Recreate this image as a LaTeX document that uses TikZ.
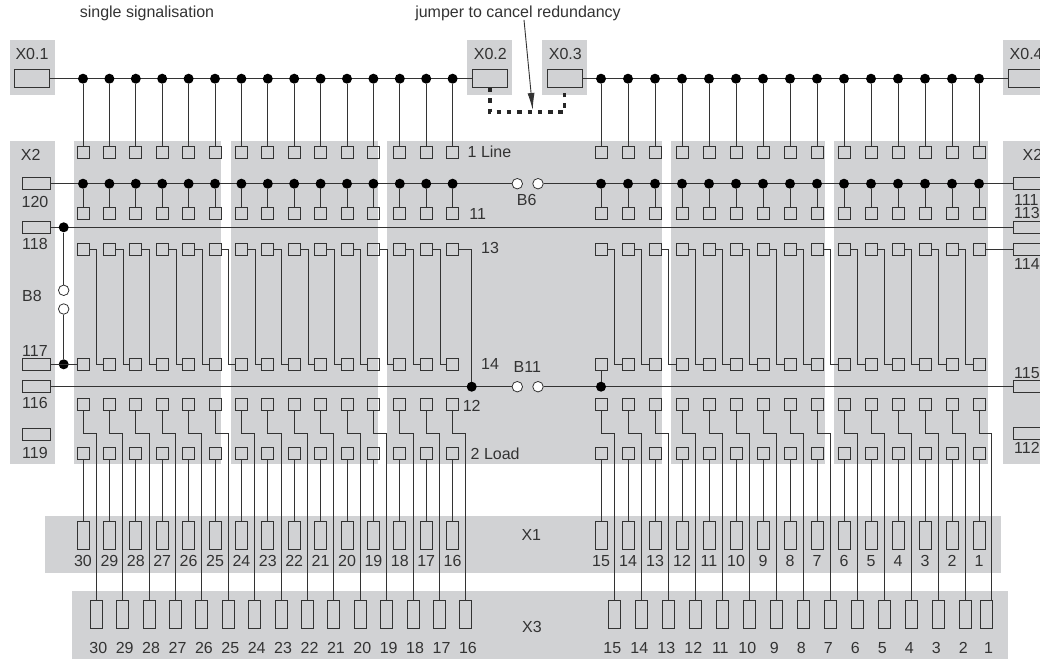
\documentclass[tikz,border=0pt]{standalone}
\usepackage{fontspec}
\setmainfont{Liberation Sans}
\usepackage{tikz}
\usetikzlibrary{arrows.meta}
\definecolor{panelgray}{HTML}{D1D2D4}
\definecolor{inkgray}{HTML}{333333}
\tikzstyle{line} = [draw=inkgray, line width=1pt]
\tikzstyle{panel} = [fill=panelgray]
\tikzstyle{pin} = [rectangle, draw=inkgray, line width=1pt, minimum size=12pt, inner sep=0pt]
\tikzstyle{term_x0} = [rectangle, draw=inkgray, line width=1pt, minimum width=35pt, minimum height=17.5pt, inner sep=0pt]
\tikzstyle{term_x2} = [rectangle, draw=inkgray, line width=1pt, minimum width=28pt, minimum height=12pt, inner sep=0pt]
\tikzstyle{term_v} = [rectangle, draw=inkgray, line width=1pt, minimum width=12pt, minimum height=28pt, inner sep=0pt]
\tikzstyle{dot_on} = [circle, fill=black, minimum size=10pt, inner sep=0pt]
\tikzstyle{dot_off} = [circle, draw=inkgray, fill=white, line width=0.8pt, minimum size=10.5pt, inner sep=0pt]
\tikzstyle{lbl} = [inner sep=0pt, text=inkgray, text height=11.5pt, text depth=0pt, font=\fontsize{16}{16}\selectfont]
\tikzstyle{jumper} = [draw=black!85, line width=3.6pt, dash pattern=on 4.5pt off 5.8pt]
\tikzstyle{pointer} = [draw=inkgray, line width=0.9pt, -{Latex[length=17pt,width=7pt]}]
\begin{document}
\begin{tikzpicture}[x=1pt, y=-1pt]
	\path [use as bounding box, clip] (0,0) rectangle (1040,659);

	\path [panel] (10,40) rectangle (55,95);
	\path [panel] (467,40) rectangle (511.7,95);
	\path [panel] (542,40) rectangle (587,95);
	\path [panel] (1003,40) rectangle (1040,95);
	\path [panel] (10,141) rectangle (55,463.5);
	\path [panel] (74,141) rectangle (221,463.5);
	\path [panel] (231,141) rectangle (377.7,463.5);
	\path [panel] (387,141) rectangle (662,463.5);
	\path [panel] (671,141) rectangle (825,463.5);
	\path [panel] (834,141) rectangle (987.7,463.5);
	\path [panel] (1003,141) rectangle (1040,463.5);
	\path [panel] (45,516) rectangle (1001,572.7);
	\path [panel] (72,591) rectangle (1008,659);

	\node [lbl] (lbl_single) at (147,12) {single signalisation};
	\node [lbl] (lbl_jumper) at (518,12) {jumper to cancel redundancy};
	\node [lbl] (lbl_x01) at (32,53.3) {X0.1};
	\node [lbl] (lbl_x02) at (490.3,53.3) {X0.2};
	\node [lbl] (lbl_x03) at (565.3,53.3) {X0.3};
	\node [lbl, anchor=west] (lbl_x04) at (1009.5,53.3) {X0.4};
	\node [lbl] (lbl_x2l) at (30.7,154.7) {X2};
	\node [lbl, anchor=west] (lbl_x2r) at (1022.5,154.7) {X2};
	\node [lbl] (lbl_120) at (35,201.7) {120};
	\node [lbl] (lbl_118) at (35,243.3) {118};
	\node [lbl] (lbl_b8) at (32,296) {B8};
	\node [lbl] (lbl_117) at (35,350.7) {117};
	\node [lbl] (lbl_116) at (35,402.7) {116};
	\node [lbl] (lbl_119) at (35,452.7) {119};
	\node [lbl, anchor=west] (lbl_111) at (1014,199.3) {111};
	\node [lbl, anchor=west] (lbl_113) at (1014,213) {113};
	\node [lbl, anchor=west] (lbl_114) at (1014,264) {114};
	\node [lbl, anchor=west] (lbl_115) at (1014,372.7) {115};
	\node [lbl, anchor=west] (lbl_112) at (1014,447.3) {112};
	\node [lbl, anchor=west] (lbl_line) at (467.5,151.7) {1 Line};
	\node [lbl] (lbl_11) at (477.7,214) {11};
	\node [lbl] (lbl_b6) at (526.7,199.3) {B6};
	\node [lbl] (lbl_13) at (490,247.3) {13};
	\node [lbl] (lbl_14) at (490,363.3) {14};
	\node [lbl] (lbl_b11) at (527.3,366.7) {B11};
	\node [lbl] (lbl_12) at (471.7,405.3) {12};
	\node [lbl, anchor=west] (lbl_load) at (470.5,453.3) {2 Load};
	\node [lbl] (lbl_x1) at (531.3,534.3) {X1};
	\node [lbl] (lbl_x3) at (532,626.3) {X3};

	\node [term_x0] (t_x01) at (32.3,78.7) {};
	\node [term_x0] (t_x02) at (489.7,78.7) {};
	\node [term_x0] (t_x03) at (564.5,78.7) {};
	\node [term_x0] (t_x04) at (1025.5,78.7) {};
	\node [term_x2] (t_120) at (36,183.7) {};
	\node [term_x2] (t_118) at (36,227.3) {};
	\node [term_x2] (t_117) at (36,364.3) {};
	\node [term_x2] (t_116) at (36,386.7) {};
	\node [term_x2] (t_119) at (36,434) {};
	\node [term_x2] (t_111) at (1027,183.7) {};
	\node [term_x2] (t_113) at (1027,227.3) {};
	\node [term_x2] (t_114) at (1027,249.3) {};
	\node [term_x2] (t_115) at (1027,386.7) {};
	\node [term_x2] (t_112) at (1027,433.3) {};

	\node [dot_off] (off_b6a) at (517.3,183.7) {};
	\node [dot_off] (off_b6b) at (538,183.7) {};
	\node [dot_off] (off_b11a) at (517.3,386.7) {};
	\node [dot_off] (off_b11b) at (538,386.7) {};
	\node [dot_off] (off_b8a) at (63.7,290.3) {};
	\node [dot_off] (off_b8b) at (63.7,309) {};

	\path [line] (t_x01.east) to (t_x02.west);
	\path [line] (t_x03.east) to (t_x04.west);
	\path [line] (t_120.east) to (off_b6a.west);
	\path [line] (off_b6b.east) to (t_111.west);
	\path [line] (t_118.east) to (t_113.west);
	\path [line] (t_116.east) to (off_b11a.west);
	\path [line] (off_b11b.east) to (t_115.west);

	\node [dot_on] (dot_118) at (63.7,227.3) {};
	\node [dot_on] (dot_117) at (63.7,364.3) {};
	\node [dot_on] (dot_left) at (471.7,386.7) {};
	\node [dot_on] (dot_right) at (601,386.7) {};

	\foreach \i [evaluate=\i as \n using int(30-\i),
		evaluate=\i as \x using (\i<15 ? 83+26.4*\i : 601+27*(\i-15)),
		evaluate=\i as \xw using (\i>28 ? \x+12.3 : \x+13.3),
		evaluate=\i as \xb using (\i>28 ? \xw-4.7 : \xw),
		evaluate=\i as \xl using (\i<15 ? \xb+2 : (\i>28 ? \xb+2 : \xb-2))] in {0,...,29} {
		\node [dot_on] (dot0_\n) at (\x,78.7) {};
		\node [dot_on] (dot1_\n) at (\x,183.7) {};
		\node [pin] (p1_\n) at (\x,152) {};
		\node [pin] (p11_\n) at (\x,213) {};
		\node [pin] (p13_\n) at (\x,249.3) {};
		\node [pin] (p14_\n) at (\x,364.3) {};
		\node [pin] (p12_\n) at (\x,404.3) {};
		\node [pin] (p2_\n) at (\x,453) {};
		\node [term_v] (x1_\n) at (\x,535.2) {};
		\node [term_v] (x3_\n) at (\xb,614.3) {};
		\coordinate (x3w_\n) at (\xw,600.3);
		\node [lbl] (x1l_\n) at (\x,560.3) {\n};
		\node [lbl] (x3l_\n) at (\xl,647.7) {\n};
		\path [line] (dot0_\n) to (p1_\n.north);
		\path [line] (dot1_\n) to (p11_\n.north);
		\path [line] (p2_\n.south) to (x1_\n.north);
		\path [line] (p12_\n.south) -- ++(0,23) -| (x3w_\n);
	}

	\foreach \a/\b in {30/17,15/2} {
		\foreach \n [evaluate=\n as \m using int(\n-1)] in {\a,...,\b} {
			\path [line] (p13_\n.east) -- ++(7.4,0) |- (p14_\m.west);
		}
	}

	\path [line] (p13_16.east) -| (dot_left.north);
	\path [line] (p14_15.south) to (dot_right.north);
	\path [line] (p13_1.east) to (t_114.west);
	\path [line] (t_117.east) to (p14_30.west);
	\path [line] (dot_118) to (off_b8a.north);
	\path [line] (off_b8b.south) to (dot_117);

	\path [jumper] (t_x02.south) -- ++(0,24) -| (t_x03.south);
	\coordinate (jump_tip) at (532.7,110);
	\path [pointer] ([xshift=6pt,yshift=-2pt]lbl_jumper.south) to (jump_tip);
\end{tikzpicture}
\end{document}
